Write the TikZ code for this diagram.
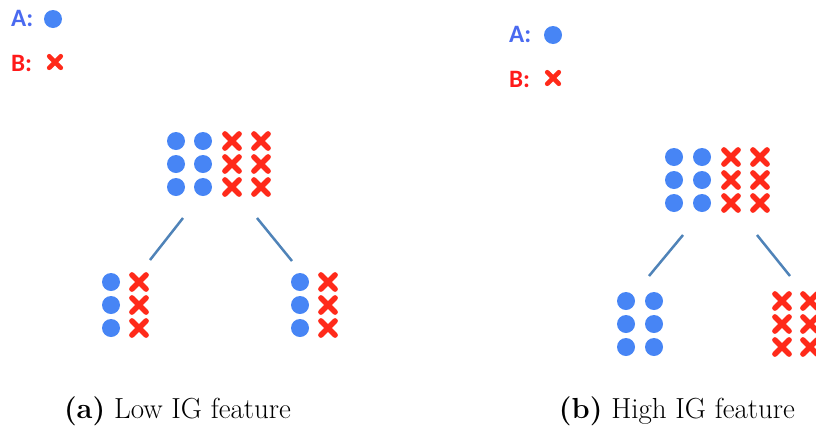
\documentclass[tikz,border=0pt]{standalone}
\usepackage{fontspec}
\newfontfamily\carlito{Carlito}
\usetikzlibrary{shapes.misc}
\definecolor{dotblue}{HTML}{4785F5}
\definecolor{xred}{HTML}{FF2A1A}
\definecolor{labblue}{HTML}{4A6AF0}
\definecolor{labred}{HTML}{FF1A1A}
\definecolor{edgeblue}{HTML}{4F83B8}
\tikzset{
  dotA/.style={circle, fill=dotblue, inner sep=0pt, minimum size=18pt},
  crossB/.style={cross out, draw=xred, line width=5.6pt, inner sep=0pt, minimum size=8.5pt, line cap=round},
  smallcross/.style={crossB, line width=4.6pt, minimum size=7pt},
  branch/.style={draw=edgeblue, line width=2.5pt},
  legendtext/.style={font=\carlito\bfseries\fontsize{25}{27}\selectfont, anchor=west, inner sep=0pt},
  captext/.style={font=\fontsize{29}{33}\selectfont, inner sep=0pt}
}
\begin{document}
\begin{tikzpicture}[x=1pt,y=-1pt]
\useasboundingbox (0,0) rectangle (816,429);
% ---------- panel (a) ----------
\node[legendtext, text=labblue] (aA) at (11,18) {A:};
\node[dotA] (aAdot) at (53,19) {};
\node[legendtext, text=labred] (aB) at (11,63) {B:};
\node[smallcross] (aBx) at (55,62) {};
% top cluster
\foreach \x/\i in {176/1,203/2}
  \foreach \y/\j in {141/1,164/2,187/3}
    \node[dotA] (atd\i\j) at (\x,\y) {};
\foreach \x/\i in {232/1,261/2}
  \foreach \y/\j in {141/1,164/2,187/3}
    \node[crossB] (atx\i\j) at (\x,\y) {};
% left child
\foreach \y/\j in {282/1,305/2,328/3}{
  \node[dotA] (ald\j) at (111,\y) {};
  \node[crossB] (alx\j) at (139,\y) {};
}
% right child
\foreach \y/\j in {282/1,305/2,328/3}{
  \node[dotA] (ard\j) at (300,\y) {};
  \node[crossB] (arx\j) at (328,\y) {};
}
\coordinate (aL1) at (183,218);
\coordinate (aL2) at (150,260);
\coordinate (aR1) at (257,218);
\coordinate (aR2) at (292,261);
\draw[branch] (aL1) -- (aL2);
\draw[branch] (aR1) -- (aR2);
\node[captext] (capa) at (177.5,411) {\textbf{(a)} Low IG feature};
% ---------- panel (b) ----------
\node[legendtext, text=labblue] (bA) at (509,34) {A:};
\node[dotA] (bAdot) at (553,35) {};
\node[legendtext, text=labred] (bB) at (509,79) {B:};
\node[smallcross] (bBx) at (553,78) {};
\foreach \x/\i in {674/1,702/2}
  \foreach \y/\j in {157/1,180/2,203/3}
    \node[dotA] (btd\i\j) at (\x,\y) {};
\foreach \x/\i in {731/1,760/2}
  \foreach \y/\j in {157/1,180/2,203/3}
    \node[crossB] (btx\i\j) at (\x,\y) {};
\foreach \x/\i in {626/1,654/2}
  \foreach \y/\j in {301/1,324/2,347/3}
    \node[dotA] (bld\i\j) at (\x,\y) {};
\foreach \x/\i in {782/1,810/2}
  \foreach \y/\j in {301/1,324/2,347/3}
    \node[crossB] (brx\i\j) at (\x,\y) {};
\coordinate (bL1) at (683,235);
\coordinate (bL2) at (649,276);
\coordinate (bR1) at (757,235);
\coordinate (bR2) at (790,276);
\draw[branch] (bL1) -- (bL2);
\draw[branch] (bR1) -- (bR2);
\node[captext] (capb) at (677,411) {\textbf{(b)} High IG feature};
\end{tikzpicture}
\end{document}
